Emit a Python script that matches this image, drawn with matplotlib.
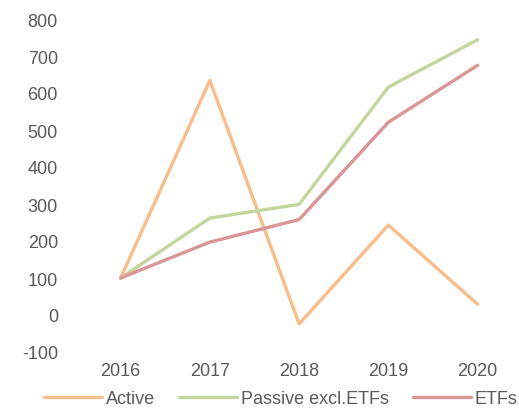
import matplotlib.pyplot as plt

years = [2016, 2017, 2018, 2019, 2020]
active = [100, 634, -24, 243, 29]
passive_excl_etfs = [100, 262, 299, 616, 744]
etfs = [100, 197, 258, 521, 675]

plt.rcParams['font.family'] = ['Liberation Sans', 'DejaVu Sans']
plt.rcParams['axes.unicode_minus'] = False

fig = plt.figure(figsize=(5.19, 4.14), dpi=100)
ax = fig.add_axes([76 / 519, (414 - 353) / 414, 443 / 519, 333 / 414])

ax.plot(years, active, color='#F9BD8A', lw=2.4, solid_capstyle='round', label='Active')
ax.plot(years, passive_excl_etfs, color='#C3D69B', lw=2.4, solid_capstyle='round', label='Passive excl.ETFs')
ax.plot(years, etfs, color='#D99694', lw=2.4, solid_capstyle='round', label='ETFs')

ax.set_xlim(2015.5, 2015.5 + 443 / 89.25)
ax.set_ylim(-100, 800)
ax.set_xticks(years)
ax.set_yticks(range(-100, 801, 100))
for s in ax.spines.values():
    s.set_visible(False)
ax.tick_params(length=0, labelsize=13, colors='#595959')
ax.tick_params(axis='y', pad=13)
ax.tick_params(axis='x', pad=7)

fig.legend(loc='center', bbox_to_anchor=(0.541, 0.034), ncol=3, frameon=False,
           fontsize=13, labelcolor='#595959', handlelength=3.2, handletextpad=0.2,
           columnspacing=1.35, borderaxespad=0)

fig.savefig('out.png', dpi=100)
